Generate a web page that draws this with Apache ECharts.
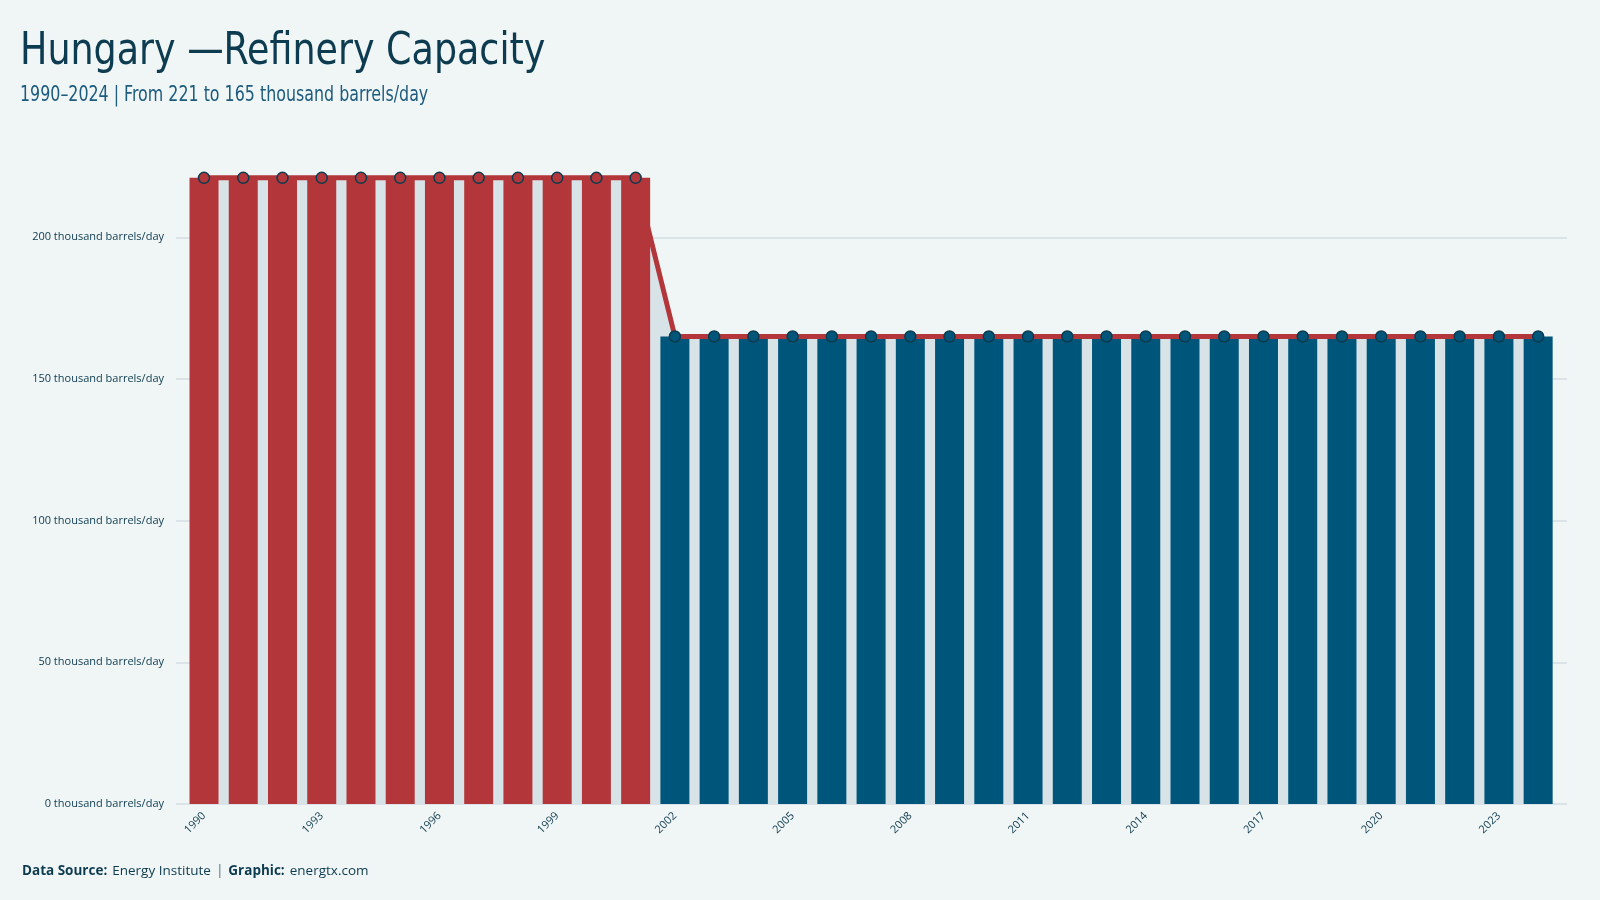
<!DOCTYPE html>
<html>
<head>
<meta charset="utf-8">
<script src="https://cdn.jsdelivr.net/npm/echarts@6/dist/echarts.min.js"></script>
<style>
html,body{margin:0;padding:0;background:#f0f5f5;}
#c{width:1600px;height:900px;}
</style>
</head>
<body>
<div id="c"></div>
<script>
const years = [1990,1991,1992,1993,1994,1995,1996,1997,1998,1999,2000,2001,2002,2003,2004,2005,2006,2007,2008,2009,2010,2011,2012,2013,2014,2015,2016,2017,2018,2019,2020,2021,2022,2023,2024];
const capacity = [221,221,221,221,221,221,221,221,221,221,221,221,165,165,165,165,165,165,165,165,165,165,165,165,165,165,165,165,165,165,165,165,165,165,165];
const xTickYears = [1990,1993,1996,1999,2002,2005,2008,2011,2014,2017,2020,2023];
const yTicks = [0,50,100,150,200];

const RED = '#b3373a', BLUE = '#00567a', DARK = '#0d3b4f', AREA = '#d8e3e8';
const FONT = "'DejaVu Sans Condensed','Roboto',sans-serif";
const colorFor = (v) => v >= 200 ? RED : BLUE;

const pairs = years.map((y, i) => [y, capacity[i]]);
const barData = years.map((y, i) => ({ value: [y, capacity[i]], itemStyle: { color: colorFor(capacity[i]) } }));
const pointData = years.map((y, i) => ({ value: [y, capacity[i]], itemStyle: { color: colorFor(capacity[i]), borderColor: DARK, borderWidth: 1.5 } }));

const chart = echarts.init(document.getElementById('c'));
chart.setOption({
  backgroundColor: '#f0f5f5',
  animation: false,
  graphic: [
    { type: 'text', x: 20, y: 30, scaleX: 0.9,
      style: { text: 'Hungary —Refinery Capacity', fontFamily: FONT, fontSize: 45, fontWeight: 'normal',
        fill: DARK, verticalAlign: 'top', align: 'left' } },
    { type: 'text', x: 20, y: 85, scaleX: 0.84,
      style: { text: '1990–2024 | From 221 to 165 thousand barrels/day', fontFamily: FONT, fontSize: 21,
        fontWeight: 'normal', fill: '#1d5b7e', verticalAlign: 'top', align: 'left' } }
  ],
  title: [
    { text: '{b|Data Source:} {r|Energy Institute} {s||} {b|Graphic:} {r|energtx.com}', left: 17, top: 857,
      textStyle: { fontWeight: 'normal', rich: {
        b: { fontFamily: "'Open Sans',sans-serif", fontSize: 13.5, fontWeight: 'bold', color: DARK },
        r: { fontFamily: "'Open Sans',sans-serif", fontSize: 13.5, fontWeight: 'normal', color: DARK },
        s: { fontFamily: "'Open Sans',sans-serif", fontSize: 13.5, fontWeight: 'bold', color: '#8aa0ad' }
      } } }
  ],
  grid: { left: 176, right: 33, top: 124, bottom: 96 },
  xAxis: {
    type: 'value', min: 1989.286, max: 2024.735,
    splitLine: { show: false }, axisLine: { show: false }, axisTick: { show: false },
    axisLabel: { customValues: xTickYears, rotate: 45, color: DARK, fontSize: 11,
      fontFamily: "'Open Sans',sans-serif", margin: 10, formatter: (v) => String(v) }
  },
  yAxis: {
    type: 'value', min: 0, max: 240, interval: 50,
    axisLine: { show: false }, axisTick: { show: false },
    splitLine: { show: true, showMaxLine: false, lineStyle: { color: '#d5dde0', width: 1.5 } },
    axisLabel: { showMaxLabel: false, color: DARK, fontSize: 11, margin: 12,
      fontFamily: "'Open Sans',sans-serif",
      formatter: (v) => yTicks.includes(v) ? v + ' thousand barrels/day' : '' }
  },
  series: [
    { type: 'line', data: pairs, z: 1, symbol: 'none',
      lineStyle: { width: 0 }, areaStyle: { color: AREA, opacity: 1 } },
    { type: 'bar', data: barData, barWidth: 29, z: 2 },
    { type: 'line', data: pointData, z: 3, symbol: 'circle', symbolSize: 11,
      lineStyle: { color: RED, width: 5 } }
  ]
});
</script>
</body>
</html>
